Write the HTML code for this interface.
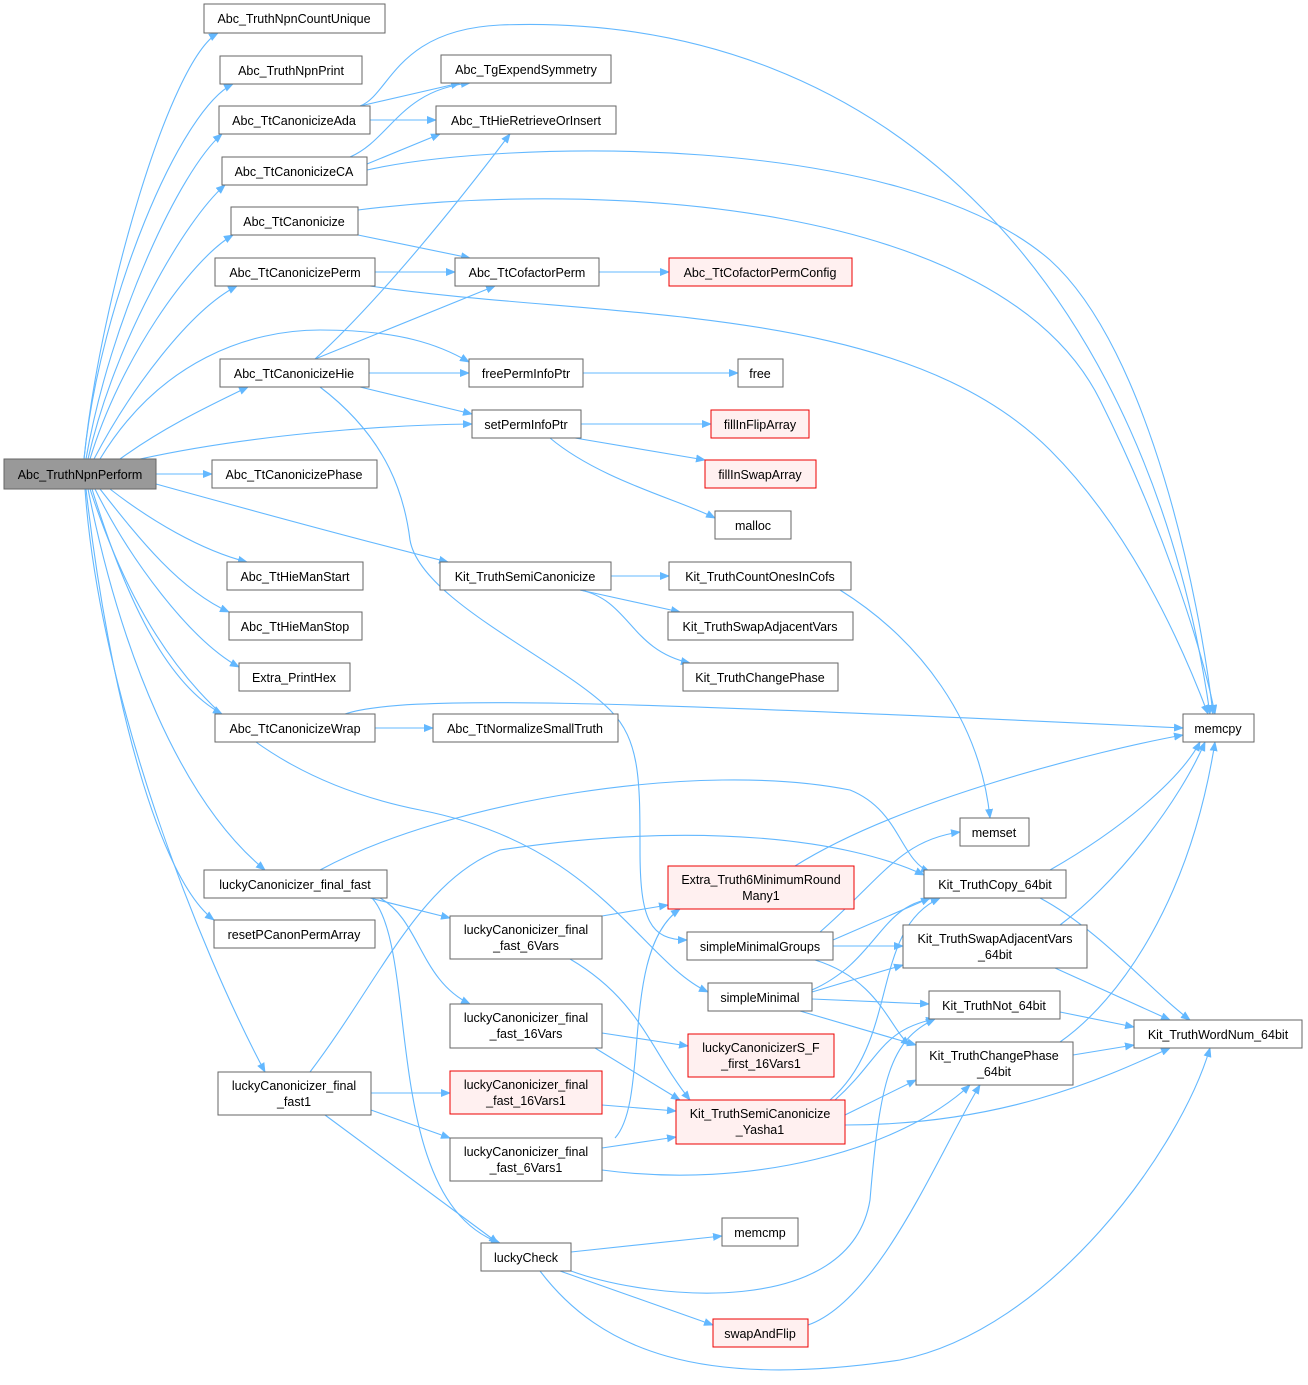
<!DOCTYPE html>
<html><head><meta charset="utf-8"><style>
html,body{margin:0;padding:0;background:#fff}
svg{display:block}
text{font-family:"Liberation Sans",Arial,sans-serif;font-size:12.5px;fill:#000;text-anchor:middle}
.n{fill:#fff;stroke:#666;stroke-width:1}
.r{fill:#fff0f0;stroke:#e00;stroke-width:1}
.g{fill:#999;stroke:#666;stroke-width:1}
.e{fill:none;stroke:#63b8ff;stroke-width:1.1;marker-end:url(#a)}
</style></head><body>
<svg width="1308" height="1385" viewBox="0 0 1308 1385" xmlns="http://www.w3.org/2000/svg">
<defs><marker id="a" markerWidth="10" markerHeight="8" refX="9" refY="4" orient="auto" markerUnits="userSpaceOnUse"><path d="M0,0 L10,4 L0,8 z" fill="#63b8ff"/></marker></defs>
<g>
<path class="e" d="M84,459 C100,300 170,60 218,33"/>
<path class="e" d="M84,459 C100,300 180,110 233,84"/>
<path class="e" d="M86,459 C110,320 180,170 222,134"/>
<path class="e" d="M88,459 C115,340 185,220 225,185"/>
<path class="e" d="M90,459 C120,360 190,260 233,235"/>
<path class="e" d="M94,459 C130,390 190,310 237,286"/>
<path class="e" d="M120,459 C160,430 200,410 248,387"/>
<path class="e" d="M100,459 C160,360 250,330 320,330 C400,330 440,345 469,362"/>
<path class="e" d="M140,459 C250,435 380,425 472,424"/>
<path class="e" d="M156,474 L212,474"/>
<path class="e" d="M156,484 C250,510 380,545 448,562"/>
<path class="e" d="M110,489 C150,520 200,550 247,562"/>
<path class="e" d="M100,489 C140,540 180,590 229,612"/>
<path class="e" d="M95,489 C130,560 190,640 239,667"/>
<path class="e" d="M92,489 C120,580 160,680 222,714"/>
<path class="e" d="M90,489 C140,640 220,770 420,810 C600,845 640,960 708,992"/>
<path class="e" d="M88,489 C120,650 180,800 265,870"/>
<path class="e" d="M86,489 C110,700 160,880 214,920"/>
<path class="e" d="M85,489 C100,700 200,950 265,1072"/>
<path class="e" d="M360,106 C390,95 395,30 500,25 C900,10 1150,300 1210,714"/>
<path class="e" d="M360,106 L460,83"/>
<path class="e" d="M370,120 L436,120"/>
<path class="e" d="M350,157 C390,140 400,90 470,83"/>
<path class="e" d="M367,164 L440,134"/>
<path class="e" d="M367,170 C500,140 900,130 1050,260 C1150,350 1200,600 1213,714"/>
<path class="e" d="M358,210 C600,180 1000,200 1100,400 C1160,520 1200,640 1215,714"/>
<path class="e" d="M358,235 L470,258"/>
<path class="e" d="M375,272 L455,272"/>
<path class="e" d="M370,286 C600,320 900,300 1050,450 C1130,530 1180,640 1208,714"/>
<path class="e" d="M315,359 C380,300 460,200 510,134"/>
<path class="e" d="M315,359 L495,286"/>
<path class="e" d="M369,373 L469,373"/>
<path class="e" d="M360,387 L472,414"/>
<path class="e" d="M320,387 C390,440 405,500 410,540 C420,600 560,660 610,710 C640,740 640,780 640,850 C640,920 650,940 687,940"/>
<path class="e" d="M599,272 L669,272"/>
<path class="e" d="M583,373 L738,373"/>
<path class="e" d="M581,424 L711,424"/>
<path class="e" d="M575,438 L705,460"/>
<path class="e" d="M550,438 C600,480 680,500 715,518"/>
<path class="e" d="M611,576 L669,576"/>
<path class="e" d="M580,590 L680,612"/>
<path class="e" d="M580,590 C630,600 630,650 690,663"/>
<path class="e" d="M840,590 C920,640 980,720 990,818"/>
<path class="e" d="M345,714 C400,695 600,700 1183,728"/>
<path class="e" d="M375,728 L433,728"/>
<path class="e" d="M320,870 C450,800 700,760 850,790 C900,810 900,860 930,872"/>
<path class="e" d="M370,898 L450,918"/>
<path class="e" d="M380,898 C420,920 420,980 470,1004"/>
<path class="e" d="M372,898 C420,950 380,1200 500,1243"/>
<path class="e" d="M310,1072 C380,980 420,880 500,850 C700,820 850,840 924,875"/>
<path class="e" d="M371,1093 L450,1093"/>
<path class="e" d="M371,1110 L450,1138"/>
<path class="e" d="M325,1115 L498,1243"/>
<path class="e" d="M602,916 L668,905"/>
<path class="e" d="M570,959 C640,1000 650,1050 690,1100"/>
<path class="e" d="M602,1033 L688,1046"/>
<path class="e" d="M595,1048 L680,1100"/>
<path class="e" d="M602,1105 L676,1111"/>
<path class="e" d="M602,1148 L676,1137"/>
<path class="e" d="M615,1138 C650,1100 620,950 680,909"/>
<path class="e" d="M602,1170 C750,1190 900,1150 970,1085"/>
<path class="e" d="M795,866 C900,800 1100,750 1183,735"/>
<path class="e" d="M820,932 C880,880 900,840 960,832"/>
<path class="e" d="M833,940 L930,898"/>
<path class="e" d="M833,946 L903,946"/>
<path class="e" d="M815,960 C880,980 890,1030 910,1045"/>
<path class="e" d="M812,990 C880,960 880,900 940,898"/>
<path class="e" d="M812,992 L903,965"/>
<path class="e" d="M812,999 L929,1004"/>
<path class="e" d="M800,1011 L916,1045"/>
<path class="e" d="M835,1100 C880,1060 880,1030 935,1019"/>
<path class="e" d="M845,1115 L916,1080"/>
<path class="e" d="M830,1100 C900,1040 870,930 940,898"/>
<path class="e" d="M845,1125 C1000,1125 1100,1080 1170,1048"/>
<path class="e" d="M571,1252 L722,1236"/>
<path class="e" d="M560,1271 L713,1325"/>
<path class="e" d="M571,1271 C650,1300 850,1320 870,1200 C880,1080 890,1040 935,1019"/>
<path class="e" d="M540,1271 C600,1350 700,1390 900,1360 C1050,1330 1180,1150 1210,1048"/>
<path class="e" d="M808,1325 C880,1300 940,1150 980,1085"/>
<path class="e" d="M1050,870 C1120,830 1180,780 1200,742"/>
<path class="e" d="M1040,898 C1100,930 1150,990 1190,1020"/>
<path class="e" d="M1060,925 C1120,880 1180,800 1205,742"/>
<path class="e" d="M1055,968 L1170,1020"/>
<path class="e" d="M1060,1012 L1134,1027"/>
<path class="e" d="M1073,1055 L1134,1045"/>
<path class="e" d="M1060,1042 C1120,1000 1190,900 1215,742"/>
</g>
<g>
<rect class="g" x="4" y="459" width="152" height="30"/><text x="80" y="479">Abc_TruthNpnPerform</text>
<rect class="n" x="204" y="4" width="181" height="29"/><text x="294" y="23">Abc_TruthNpnCountUnique</text>
<rect class="n" x="220" y="56" width="142" height="28"/><text x="291" y="75">Abc_TruthNpnPrint</text>
<rect class="n" x="219" y="106" width="151" height="28"/><text x="294" y="125">Abc_TtCanonicizeAda</text>
<rect class="n" x="222" y="157" width="145" height="28"/><text x="294" y="176">Abc_TtCanonicizeCA</text>
<rect class="n" x="231" y="207" width="127" height="28"/><text x="294" y="226">Abc_TtCanonicize</text>
<rect class="n" x="215" y="258" width="160" height="28"/><text x="295" y="277">Abc_TtCanonicizePerm</text>
<rect class="n" x="220" y="359" width="149" height="28"/><text x="294" y="378">Abc_TtCanonicizeHie</text>
<rect class="n" x="212" y="460" width="165" height="28"/><text x="294" y="479">Abc_TtCanonicizePhase</text>
<rect class="n" x="227" y="562" width="136" height="28"/><text x="295" y="581">Abc_TtHieManStart</text>
<rect class="n" x="229" y="612" width="133" height="28"/><text x="295" y="631">Abc_TtHieManStop</text>
<rect class="n" x="239" y="663" width="111" height="28"/><text x="294" y="682">Extra_PrintHex</text>
<rect class="n" x="215" y="714" width="160" height="28"/><text x="295" y="733">Abc_TtCanonicizeWrap</text>
<rect class="n" x="204" y="870" width="183" height="28"/><text x="295" y="889">luckyCanonicizer_final_fast</text>
<rect class="n" x="214" y="920" width="161" height="28"/><text x="294" y="939">resetPCanonPermArray</text>
<rect class="n" x="218" y="1072" width="153" height="43"/><text x="294" y="1090">luckyCanonicizer_final</text><text x="294" y="1106">_fast1</text>
<rect class="n" x="441" y="55" width="170" height="28"/><text x="526" y="74">Abc_TgExpendSymmetry</text>
<rect class="n" x="436" y="106" width="180" height="28"/><text x="526" y="125">Abc_TtHieRetrieveOrInsert</text>
<rect class="n" x="455" y="258" width="144" height="28"/><text x="527" y="277">Abc_TtCofactorPerm</text>
<rect class="n" x="469" y="359" width="114" height="28"/><text x="526" y="378">freePermInfoPtr</text>
<rect class="n" x="472" y="410" width="109" height="28"/><text x="526" y="429">setPermInfoPtr</text>
<rect class="n" x="440" y="562" width="171" height="28"/><text x="525" y="581">Kit_TruthSemiCanonicize</text>
<rect class="n" x="433" y="714" width="185" height="28"/><text x="525" y="733">Abc_TtNormalizeSmallTruth</text>
<rect class="n" x="450" y="916" width="152" height="43"/><text x="526" y="934">luckyCanonicizer_final</text><text x="526" y="950">_fast_6Vars</text>
<rect class="n" x="450" y="1004" width="152" height="44"/><text x="526" y="1022">luckyCanonicizer_final</text><text x="526" y="1038">_fast_16Vars</text>
<rect class="r" x="450" y="1071" width="152" height="43"/><text x="526" y="1089">luckyCanonicizer_final</text><text x="526" y="1105">_fast_16Vars1</text>
<rect class="n" x="450" y="1138" width="152" height="43"/><text x="526" y="1156">luckyCanonicizer_final</text><text x="526" y="1172">_fast_6Vars1</text>
<rect class="n" x="481" y="1243" width="90" height="28"/><text x="526" y="1262">luckyCheck</text>
<rect class="r" x="669" y="258" width="183" height="28"/><text x="760" y="277">Abc_TtCofactorPermConfig</text>
<rect class="n" x="738" y="359" width="45" height="28"/><text x="760" y="378">free</text>
<rect class="r" x="711" y="410" width="98" height="28"/><text x="760" y="429">fillInFlipArray</text>
<rect class="r" x="705" y="460" width="111" height="28"/><text x="760" y="479">fillInSwapArray</text>
<rect class="n" x="715" y="511" width="76" height="28"/><text x="753" y="530">malloc</text>
<rect class="n" x="669" y="562" width="182" height="28"/><text x="760" y="581">Kit_TruthCountOnesInCofs</text>
<rect class="n" x="668" y="612" width="185" height="28"/><text x="760" y="631">Kit_TruthSwapAdjacentVars</text>
<rect class="n" x="683" y="663" width="155" height="28"/><text x="760" y="682">Kit_TruthChangePhase</text>
<rect class="r" x="668" y="866" width="186" height="43"/><text x="761" y="884">Extra_Truth6MinimumRound</text><text x="761" y="900">Many1</text>
<rect class="n" x="687" y="932" width="146" height="28"/><text x="760" y="951">simpleMinimalGroups</text>
<rect class="n" x="708" y="983" width="104" height="28"/><text x="760" y="1002">simpleMinimal</text>
<rect class="r" x="688" y="1034" width="146" height="43"/><text x="761" y="1052">luckyCanonicizerS_F</text><text x="761" y="1068">_first_16Vars1</text>
<rect class="r" x="676" y="1100" width="169" height="44"/><text x="760" y="1118">Kit_TruthSemiCanonicize</text><text x="760" y="1134">_Yasha1</text>
<rect class="n" x="722" y="1218" width="76" height="28"/><text x="760" y="1237">memcmp</text>
<rect class="r" x="713" y="1319" width="95" height="28"/><text x="760" y="1338">swapAndFlip</text>
<rect class="n" x="1183" y="714" width="71" height="28"/><text x="1218" y="733">memcpy</text>
<rect class="n" x="960" y="818" width="69" height="28"/><text x="994" y="837">memset</text>
<rect class="n" x="924" y="870" width="142" height="28"/><text x="995" y="889">Kit_TruthCopy_64bit</text>
<rect class="n" x="903" y="925" width="184" height="43"/><text x="995" y="943">Kit_TruthSwapAdjacentVars</text><text x="995" y="959">_64bit</text>
<rect class="n" x="929" y="991" width="131" height="28"/><text x="994" y="1010">Kit_TruthNot_64bit</text>
<rect class="n" x="916" y="1042" width="157" height="43"/><text x="994" y="1060">Kit_TruthChangePhase</text><text x="994" y="1076">_64bit</text>
<rect class="n" x="1134" y="1020" width="168" height="28"/><text x="1218" y="1039">Kit_TruthWordNum_64bit</text>
</g>
</svg>
</body></html>
